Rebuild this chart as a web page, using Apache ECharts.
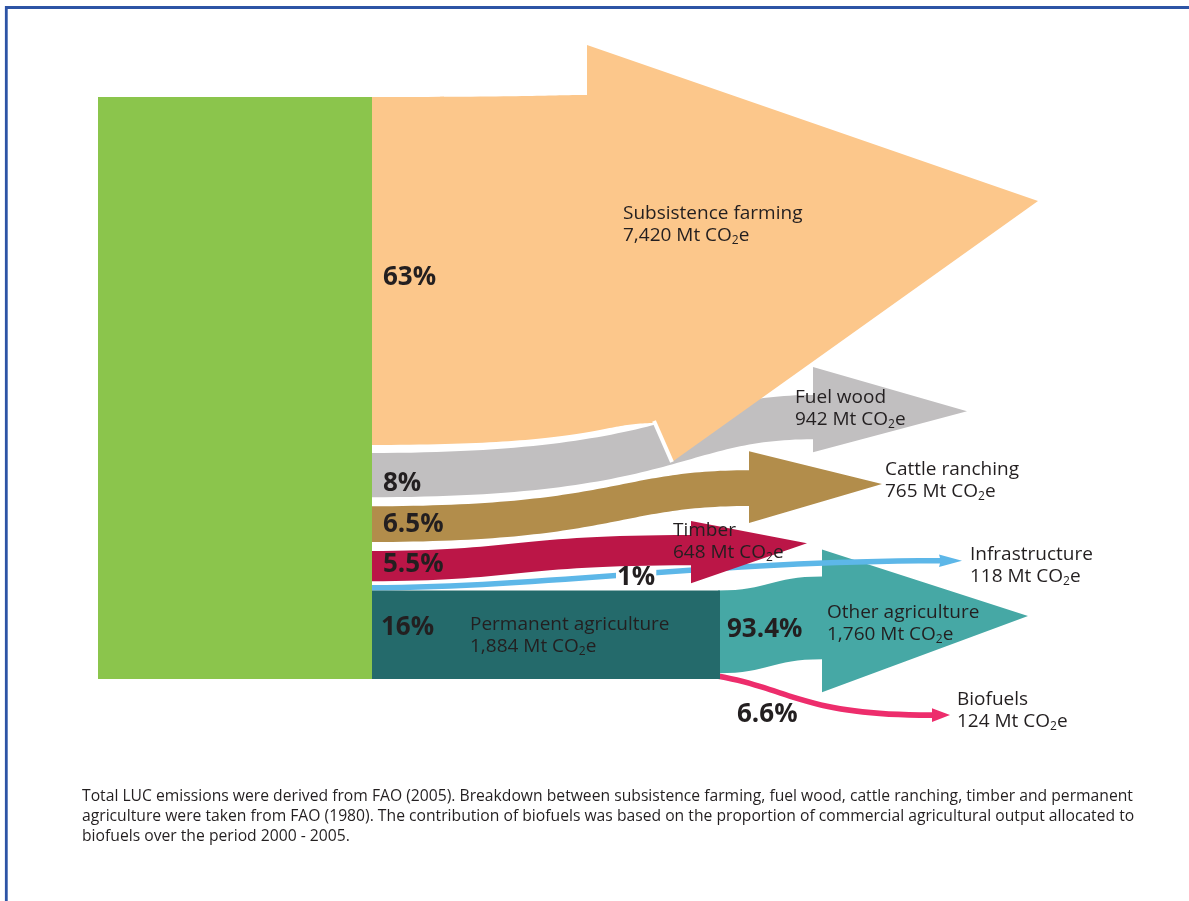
<!DOCTYPE html>
<html><head><meta charset="utf-8">
<script src="https://cdn.jsdelivr.net/npm/echarts@6/dist/echarts.min.js"></script>
<style>html,body{margin:0;padding:0;background:#fff}#chart{width:1189px;height:901px}</style>
</head><body><div id="chart"></div>
<script>
// ---------------- data ----------------
const flowNames = ['Subsistence farming', 'Fuel wood', 'Cattle ranching', 'Timber', 'Infrastructure', 'Permanent agriculture'];
const flowValues = [7420, 942, 765, 648, 118, 1884];
const flowShares = ['63%', '8%', '6.5%', '5.5%', '1%', '16%'];
const subNames = ['Other agriculture', 'Biofuels'];
const subValues = [1760, 124];
const subShares = ['93.4%', '6.6%'];
const unitText = 'Mt CO';
const captionLines = [
  'Total LUC emissions were derived from FAO (2005). Breakdown between subsistence farming, fuel wood, cattle ranching, timber and permanent',
  'agriculture were taken from FAO (1980). The contribution of biofuels was based on the proportion of commercial agricultural output allocated to',
  'biofuels over the period 2000 - 2005.'
];

// ---------------- layout (positions / styles) ----------------
const GAPS = [170, 190, 190, 80, 0, 0];        // value-space white gap after each flow
const SRC_LEFT = 98, SRC_X = 372, PERM_END = 720;
const TXT = '#231f20';
const FONT = '"Open Sans", "Noto Sans", sans-serif';
const flowLayout = [
  {color: '#fcc78b', baseX: 587, skew: 68, riseTop: -2, riseBot: -22, barbTop: [0, -50], barbBot: [17, 39], tipX: 1038, tipDy: -58, bend: [0.8, 0.8], z2: 7, cut: true, label: [623, 214], pctX: 383, pctDy: 7},
  {color: '#c1bfc0', baseX: 813, skew: 0, riseTop: -58, riseBot: -58, barbTop: [0, -28], barbBot: [0, 13], tipX: 967, tipDy: -6, bend: [0.7, 0.7], z2: 6, label: [795, 398], pctX: 383, pctDy: 8},
  {color: '#b28d4b', baseX: 749, skew: 0, riseTop: -36, riseBot: -36, barbTop: [0, -19], barbBot: [0, 17], tipX: 882, tipDy: -4, bend: [0.65, 0.65], z2: 5, label: [885, 470], pctX: 383, pctDy: 1},
  {color: '#bb1647', baseX: 691, skew: 0, riseTop: -16, riseBot: -16, barbTop: [0, -14], barbBot: [0, 18], tipX: 807, tipDy: -7, bend: [0.45, 0.45], z2: 4, label: [673, 531], pctX: 383, pctDy: -2},
  {color: '#5db7e8', baseX: 940, skew: 0, riseTop: -27, riseBot: -27, barbTop: [-1, -3.5], barbBot: [-1, 3.5], tipX: 962, tipDy: 0, bend: [0.3, 0.6], z2: 3, label: [970, 555], pctX: 616, pctDy: -10, pctBg: true},
  {color: '#246a6b', rect: true, z2: 9, label: [470, 625], pctX: 381, pctDy: -7}
];
const subLayout = [
  {color: '#46a8a5', baseX: 822, skew: 0, riseTop: -14, riseBot: -14, barbTop: [0, -27], barbBot: [0, 33], tipX: 1028, tipDy: -2, bend: [0.5, 0.5], z2: 1, label: [827, 613], pctX: 727, pctDy: -2},
  {color: '#ed2d6c', baseX: 932, skew: 0, riseTop: 39, riseBot: 39, barbTop: [0, -4], barbBot: [0, 4], tipX: 950, tipDy: 0, bend: [0.35, 0.4, 0.35, 1.0], z2: 2, label: [957, 700], pctX: 737, pctDy: 39}
];

// stacking in value space
const flowStarts = [];
let acc = 0;
flowValues.forEach((v, i) => { flowStarts.push(acc); acc += v + (GAPS[i] || 0); });
const SPAN = acc;
const subStarts = [];
let sacc = flowStarts[5];
subValues.forEach(v => { subStarts.push(sacc); sacc += v; });

const fmt = v => v.toLocaleString('en-US');
const richStyle = {
  n: {fontSize: 19, fontFamily: FONT, fill: TXT, lineHeight: 22},
  s: {fontSize: 12, fontFamily: FONT, fill: TXT, lineHeight: 12, verticalAlign: 'bottom'}
};
function nameLabel(api, name, v, pos) {
  const p = api.coord([pos[0], 0]);
  return {
    type: 'text', z2: 50,
    style: {
      text: '{n|' + name + '}\n{n|' + fmt(v) + ' ' + unitText + '}{s|2}{n|e}',
      rich: richStyle, x: p[0], y: pos[1] - 11, align: 'left', verticalAlign: 'top'
    }
  };
}
function pctLabel(api, txt, x, y, bg) {
  const st = {text: txt, x: api.coord([x, 0])[0], y: y, fill: TXT, font: 'bold 26px ' + FONT, align: 'left', verticalAlign: 'middle'};
  if (bg) { st.backgroundColor = '#fff'; st.padding = [0, 1, 0, 1]; st.lineHeight = 17; }
  return {type: 'text', z2: 51, style: st};
}
function arrowGeom(api, x0, t0, b0, L) {
  const X = v => api.coord([v, 0])[0];
  const tT = [X(L.baseX), t0 + L.riseTop];
  const tB = [X(L.baseX + L.skew), b0 + L.riseBot];
  const bd = L.bend;
  const edge = (p0, p3) => {
    const dx = p3[0] - p0[0], dy = p3[1] - p0[1];
    return [[p0[0] + bd[0] * dx, p0[1] + (bd[2] || 0) * dy], [p0[0] + bd[1] * dx, p0[1] + (bd[3] == null ? 1 : bd[3]) * dy]];
  };
  const [c1, c2] = edge([x0, t0], tT);
  const [d1, d2] = edge([x0, b0], tB);
  const bT = [tT[0] + L.barbTop[0], tT[1] + L.barbTop[1]];
  const bB = [tB[0] + L.barbBot[0], tB[1] + L.barbBot[1]];
  const tip = [X(L.tipX), (tT[1] + tB[1]) / 2 + L.tipDy];
  const P = p => p[0].toFixed(2) + ' ' + p[1].toFixed(2);
  const d = 'M' + P([x0, t0]) + ' C' + P(c1) + ' ' + P(c2) + ' ' + P(tT) +
    ' L' + P(bT) + ' L' + P(tip) + ' L' + P(bB) + ' L' + P(tB) +
    ' C' + P(d2) + ' ' + P(d1) + ' ' + P([x0, b0]) + ' Z';
  return {d, tB, bB};
}
function drawArrow(api, children, x0, s, v, L) {
  const t0 = api.coord([0, s])[1], b0 = api.coord([0, s + v])[1];
  const g = arrowGeom(api, x0, t0, b0, L);
  children.push({type: 'path', z2: L.z2, shape: {pathData: g.d}, style: {fill: L.color}});
  if (L.cut) {
    children.push({type: 'line', z2: L.z2 + 0.5, shape: {x1: g.tB[0] - 1, y1: g.tB[1] - 2, x2: g.bB[0], y2: g.bB[1]}, style: {stroke: '#fff', lineWidth: 4}});
  }
  return (t0 + b0) / 2;
}

function renderFlow(params, api) {
  const i = params.dataIndex;
  const v = api.value(1);
  const L = flowLayout[i];
  const s = flowStarts[i];
  const x0 = api.coord([SRC_X, 0])[0];
  const children = [];
  let mid;
  if (L.rect) {
    const t0 = api.coord([0, s])[1], b0 = api.coord([0, s + v])[1];
    const xe = api.coord([PERM_END, 0])[0];
    children.push({type: 'rect', z2: L.z2, shape: {x: x0, y: t0, width: xe - x0, height: b0 - t0}, style: {fill: L.color}});
    mid = (t0 + b0) / 2;
  } else {
    mid = drawArrow(api, children, x0 - 2, s, v, L);
  }
  children.push(nameLabel(api, flowNames[i], v, L.label));
  children.push(pctLabel(api, flowShares[i], L.pctX, mid + L.pctDy, L.pctBg));
  return {type: 'group', children};
}
function renderSub(params, api) {
  const i = params.dataIndex;
  const v = api.value(1);
  const L = subLayout[i];
  const x0 = api.coord([PERM_END, 0])[0];
  const children = [];
  const mid = drawArrow(api, children, x0 - 2, subStarts[i], v, L);
  children.push(nameLabel(api, subNames[i], v, L.label));
  children.push(pctLabel(api, subShares[i], L.pctX, mid + L.pctDy, false));
  return {type: 'group', children};
}
function renderTotal(params, api) {
  const p0 = api.coord([SRC_LEFT, 0]);
  const p1 = api.coord([SRC_X, api.value(1)]);
  return {type: 'rect', shape: {x: p0[0], y: p0[1], width: p1[0] - p0[0], height: p1[1] - p0[1]}, style: {fill: '#8bc54c'}};
}

const chart = echarts.init(document.getElementById('chart'), null, {renderer: 'canvas'});
chart.setOption({
  animation: false,
  backgroundColor: '#fff',
  grid: {left: 0, right: 0, top: 97, height: 582},
  xAxis: {type: 'value', min: 0, max: 1189, show: false},
  yAxis: {type: 'value', min: 0, max: SPAN, inverse: true, show: false},
  tooltip: {show: false},
  series: [
    {type: 'custom', name: 'sub', z: 2, silent: true, renderItem: renderSub, data: subValues.map((v, i) => [i, v])},
    {type: 'custom', name: 'flows', z: 3, silent: true, renderItem: renderFlow, data: flowValues.map((v, i) => [i, v])},
    {type: 'custom', name: 'total', z: 4, silent: true, renderItem: renderTotal, data: [[0, SPAN]]}
  ],
  graphic: [
    {type: 'polyline', silent: true, shape: {points: [[6.3, 901], [6.3, 7.5], [1189, 7.5]]}, style: {stroke: '#2d54a5', lineWidth: 2.8, fill: 'none'}},
    {type: 'text', silent: true, x: 82, y: 787, style: {text: captionLines.join('\n'), font: '15.7px ' + FONT, fill: TXT, lineHeight: 20}}
  ]
});
</script>
</body></html>
